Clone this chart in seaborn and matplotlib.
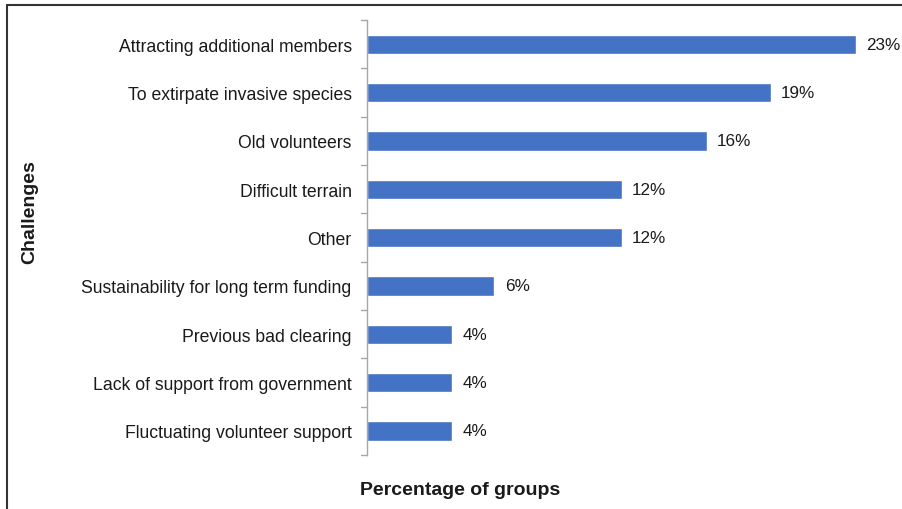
import matplotlib
matplotlib.use("Agg")
import matplotlib.pyplot as plt
import seaborn as sns
import pandas as pd
from matplotlib.lines import Line2D

categories = [
    "Attracting additional members",
    "To extirpate invasive species",
    "Old volunteers",
    "Difficult terrain",
    "Other",
    "Sustainability for long term funding",
    "Previous bad clearing",
    "Lack of support from government",
    "Fluctuating volunteer support",
]
values = [23, 19, 16, 12, 12, 6, 4, 4, 4]
value_labels = ["23%", "19%", "16%", "12%", "12%", "6%", "4%", "4%", "4%"]

sns.set_theme(style="white")
plt.rcParams["font.family"] = ["Liberation Sans", "DejaVu Sans"]

df = pd.DataFrame({"challenge": categories, "pct": values})

fig = plt.figure(figsize=(9.03, 5.10), dpi=100)
ax = fig.add_axes([367 / 903, 1 - 456 / 510, (898 - 367) / 903, (456 - 21) / 510])

sns.barplot(data=df, y="challenge", x="pct", color="#4472C4", saturation=1,
            width=0.4, ax=ax, orient="h")

ax.set_xlim(0, 25)
ax.set_ylim(len(categories) - 0.5, -0.5)

for i, (v, lab) in enumerate(zip(values, value_labels)):
    ax.text(v + 0.48, i, lab, va="center", ha="left", fontsize=12.3, color="#1a1a1a")

for s in ["top", "right", "bottom"]:
    ax.spines[s].set_visible(False)
ax.spines["left"].set_color("#a6a6a6")
ax.spines["left"].set_linewidth(1.0)

ax.set_xticks([])
ax.set_yticks(range(len(categories)))
ax.set_yticklabels(categories, fontsize=12.7, color="#1a1a1a")
ax.tick_params(axis="y", length=0, pad=11)
# boundary ticks
for b in [i - 0.5 for i in range(len(categories) + 1)]:
    ax.plot([-0.3, 0], [b, b], color="#a6a6a6", lw=1.0, clip_on=False,
            transform=ax.transData)

ax.set_xlabel("")
ax.set_ylabel("")

fig.text(460 / 903, 1 - 491 / 510, "Percentage of groups", ha="center", va="center",
         fontsize=14, fontweight="bold", color="#1a1a1a")
fig.text(30 / 903, 1 - 212 / 510, "Challenges", ha="center", va="center",
         rotation=90, fontsize=14, fontweight="bold", color="#1a1a1a")

# outer frame (top and left visible)
fig.add_artist(Line2D([7 / 903, 1], [1 - 6 / 510, 1 - 6 / 510], color="#333333",
                      lw=1.5, transform=fig.transFigure))
fig.add_artist(Line2D([7 / 903, 7 / 903], [0, 1 - 6 / 510], color="#333333",
                      lw=1.5, transform=fig.transFigure))

fig.savefig("out.png", dpi=100, facecolor="white")
